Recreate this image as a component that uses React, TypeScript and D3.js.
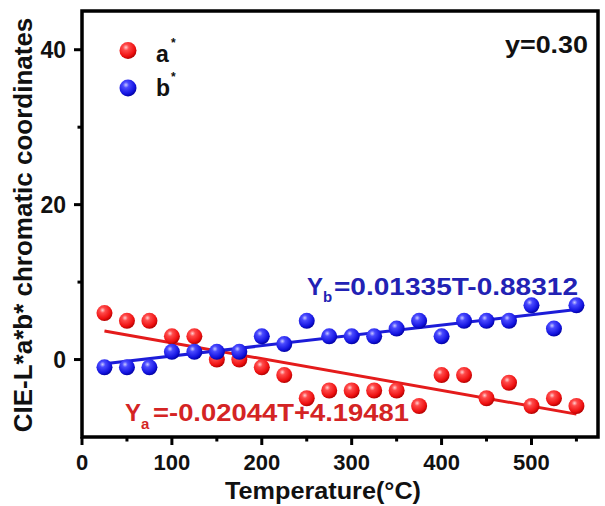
import React from "react";
import * as d3 from "d3";

const temperatures = [25, 50, 75, 100, 125, 150, 175, 200, 225, 250, 275, 300, 325, 350, 375, 400, 425, 450, 475, 500, 525, 550];
const aStar = [6, 5, 5, 3, 3, 0, 0, -1, -2, -5, -4, -4, -4, -4, -6, -2, -2, -5, -3, -6, -5, -6];
const bStar = [-1, -1, -1, 1, 1, 1, 1, 3, 2, 5, 3, 3, 3, 4, 5, 3, 5, 5, 5, 7, 4, 7];
const fitA = { slope: -0.02044, intercept: 4.19481 };
const fitB = { slope: 0.01335, intercept: -0.88312 };
const xTicks = [0, 100, 200, 300, 400, 500];
const xMinorTicks = [50, 150, 250, 350, 450, 550];
const yTicks = [0, 20, 40];
const yMinorTicks = [10, 30];
const seriesNames = ["a", "b"];
const eqA = { sym: "Y", sub: "a", rest: "=-0.02044T+4.19481" };
const eqB = { sym: "Y", sub: "b", rest: "=0.01335T-0.88312" };
const annotation = "y=0.30";

const W = 605, H = 506;
const L = 82, R = 598, T = 11, B = 437;
const FONT = "'Liberation Sans', Arial, Helvetica, sans-serif";

export default function App() {
  const x = d3.scaleLinear().domain([0, 574]).range([L, R]);
  const y = d3.scaleLinear().domain([-10, 45]).range([B, T]);
  const tEnds = [temperatures[0], temperatures[temperatures.length - 1]];
  const lineA = d3.line<number>().x((t) => x(t)).y((t) => y(fitA.slope * t + fitA.intercept))(tEnds);
  const lineB = d3.line<number>().x((t) => x(t)).y((t) => y(fitB.slope * t + fitB.intercept))(tEnds);
  const r = 8;

  const ball = (cx: number, cy: number, grad: string, key: string, rad = r) => (
    <circle key={key} cx={cx} cy={cy} r={rad} fill={`url(#${grad})`} />
  );

  return (
    <svg width={W} height={H} style={{ position: "absolute", left: 0, top: 0, background: "#fff" }} fontFamily={FONT}>
      <defs>
        <radialGradient id="gR" cx="38%" cy="32%" r="70%">
          <stop offset="0%" stopColor="#ffd0d0" />
          <stop offset="25%" stopColor="#ff4a4a" />
          <stop offset="75%" stopColor="#ee1010" />
          <stop offset="100%" stopColor="#b00000" />
        </radialGradient>
        <radialGradient id="gB" cx="38%" cy="32%" r="70%">
          <stop offset="0%" stopColor="#c8c8ff" />
          <stop offset="25%" stopColor="#4a4aff" />
          <stop offset="75%" stopColor="#1414e0" />
          <stop offset="100%" stopColor="#0000a0" />
        </radialGradient>
      </defs>

      {/* fit lines */}
      <path d={lineA ?? ""} stroke="#e41b1b" strokeWidth={3} fill="none" />
      <path d={lineB ?? ""} stroke="#1c1cd8" strokeWidth={3} fill="none" />

      {/* points */}
      {temperatures.map((t, i) => ball(x(t), y(aStar[i]), "gR", "a" + i))}
      {temperatures.map((t, i) => ball(x(t), y(bStar[i]), "gB", "b" + i))}

      {/* frame */}
      <rect x={L} y={T} width={R - L} height={B - T} fill="none" stroke="#000" strokeWidth={3.5} />

      {/* x ticks */}
      {xTicks.map((t) => (
        <g key={"xt" + t}>
          <line x1={x(t)} x2={x(t)} y1={B} y2={B + 8} stroke="#000" strokeWidth={3} />
          <text x={x(t)} y={470} textAnchor="middle" fontSize={22} fontWeight="bold" fill="#111">{t}</text>
        </g>
      ))}
      {xMinorTicks.map((t) => (
        <line key={"xm" + t} x1={x(t)} x2={x(t)} y1={B} y2={B + 4.5} stroke="#000" strokeWidth={3} />
      ))}

      {/* y ticks */}
      {yTicks.map((v) => (
        <g key={"yt" + v}>
          <line x1={L} x2={L - 8} y1={y(v)} y2={y(v)} stroke="#000" strokeWidth={3} />
          <text x={66} y={y(v)} dy="0.35em" textAnchor="end" fontSize={23} fontWeight="bold" fill="#111">{v}</text>
        </g>
      ))}
      {yMinorTicks.map((v) => (
        <line key={"ym" + v} x1={L} x2={L - 4.5} y1={y(v)} y2={y(v)} stroke="#000" strokeWidth={3} />
      ))}

      {/* axis titles */}
      <text x={323} y={499} textAnchor="middle" fontSize={24} fontWeight="bold" fill="#111" textLength={196} lengthAdjust="spacingAndGlyphs">Temperature(°C)</text>
      <text transform={`translate(32,${225}) rotate(-90)`} textAnchor="middle" fontSize={26} fontWeight="bold" fill="#111">
        CIE-L*a*b* chromatic coordinates
      </text>

      {/* legend */}
      {ball(128, 50.5, "gR", "lg0", 8.5)}
      {ball(128, 88, "gB", "lg1", 8.5)}
      {seriesNames.map((n, i) => (
        <g key={"ln" + n}>
          <text x={156} y={i === 0 ? 62 : 96} fontSize={23} fontWeight="bold" fill="#111">{n}</text>
          <text x={171} y={i === 0 ? 47 : 81} fontSize={12} fontWeight="bold" fill="#111">*</text>
        </g>
      ))}

      {/* annotation */}
      <text x={505} y={53} fontSize={24} fontWeight="bold" fill="#111" textLength={83} lengthAdjust="spacingAndGlyphs">{annotation}</text>

      {/* equations */}
      <g transform="translate(307,295)">
        <text x={0} y={0} fontSize={23} fontWeight="bold" fill="#2222b4" textLength={16} lengthAdjust="spacingAndGlyphs">{eqB.sym}</text>
        <text x={16} y={7} fontSize={15} fontWeight="bold" fill="#2222b4">{eqB.sub}</text>
        <text x={27} y={0} fontSize={23} fontWeight="bold" fill="#2222b4" textLength={244} lengthAdjust="spacingAndGlyphs">{eqB.rest}</text>
      </g>
      <g transform="translate(125,421)">
        <text x={0} y={0} fontSize={23} fontWeight="bold" fill="#d42424" textLength={16} lengthAdjust="spacingAndGlyphs">{eqA.sym}</text>
        <text x={16} y={8} fontSize={15} fontWeight="bold" fill="#d42424">{eqA.sub}</text>
        <text x={28} y={0} fontSize={23} fontWeight="bold" fill="#d42424" textLength={256} lengthAdjust="spacingAndGlyphs">{eqA.rest}</text>
      </g>
    </svg>
  );
}
